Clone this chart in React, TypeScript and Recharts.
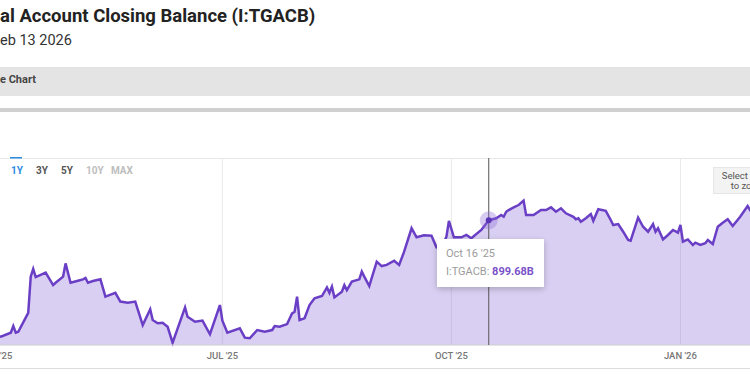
import React from "react"
import { AreaChart, Area, CartesianGrid, XAxis, YAxis, Tooltip } from "recharts"

// Treasury General Account closing balance, billions USD
const dates = [
  "2025-03-28", "2025-03-31", "2025-04-03", "2025-04-07", "2025-04-08", "2025-04-09", "2025-04-10",
  "2025-04-14", "2025-04-15", "2025-04-16", "2025-04-17", "2025-04-21", "2025-04-24", "2025-04-25",
  "2025-04-28", "2025-04-29", "2025-05-01", "2025-05-04", "2025-05-06", "2025-05-07", "2025-05-08",
  "2025-05-10", "2025-05-13", "2025-05-15", "2025-05-19", "2025-05-21", "2025-05-24", "2025-05-27",
  "2025-05-30", "2025-06-02", "2025-06-03", "2025-06-05", "2025-06-07", "2025-06-09", "2025-06-11",
  "2025-06-16", "2025-06-17", "2025-06-20", "2025-06-23", "2025-06-26", "2025-06-30", "2025-07-01",
  "2025-07-03", "2025-07-08", "2025-07-10", "2025-07-12", "2025-07-15", "2025-07-18", "2025-07-21",
  "2025-07-22", "2025-07-24", "2025-07-27", "2025-07-29", "2025-07-30", "2025-07-31", "2025-08-01",
  "2025-08-03", "2025-08-05", "2025-08-07", "2025-08-10", "2025-08-12", "2025-08-13", "2025-08-14",
  "2025-08-15", "2025-08-18", "2025-08-19", "2025-08-20", "2025-08-22", "2025-08-25", "2025-08-26",
  "2025-08-27", "2025-08-29", "2025-09-01", "2025-09-03", "2025-09-05", "2025-09-08", "2025-09-10",
  "2025-09-12", "2025-09-15", "2025-09-17", "2025-09-20", "2025-09-23", "2025-09-25", "2025-09-27",
  "2025-09-29", "2025-09-30", "2025-10-02", "2025-10-05", "2025-10-07", "2025-10-09", "2025-10-13",
  "2025-10-16", "2025-10-19", "2025-10-21", "2025-10-22", "2025-10-23", "2025-10-24", "2025-10-26",
  "2025-10-28", "2025-10-30", "2025-10-31", "2025-11-03", "2025-11-06", "2025-11-08", "2025-11-10",
  "2025-11-12", "2025-11-14", "2025-11-16", "2025-11-19", "2025-11-20", "2025-11-21", "2025-11-22",
  "2025-11-24", "2025-11-26", "2025-11-27", "2025-11-29", "2025-12-02", "2025-12-04", "2025-12-05",
  "2025-12-07", "2025-12-09", "2025-12-11", "2025-12-12", "2025-12-15", "2025-12-17", "2025-12-19",
  "2025-12-21", "2025-12-22", "2025-12-23", "2025-12-25", "2025-12-27", "2025-12-29", "2025-12-31",
  "2026-01-01", "2026-01-02", "2026-01-04", "2026-01-06", "2026-01-07", "2026-01-09", "2026-01-11",
  "2026-01-12", "2026-01-14", "2026-01-16", "2026-01-18", "2026-01-20", "2026-01-22", "2026-01-25",
  "2026-01-28", "2026-01-29", "2026-01-30", "2026-02-02",
]

const balances = [
  285, 300, 293, 314, 349, 314, 319,
  417, 606, 646, 604, 627, 562, 574,
  606, 675, 574, 585, 592, 599, 574,
  583, 592, 502, 522, 476, 470, 476,
  354, 436, 380, 363, 366, 345, 262,
  446, 397, 371, 377, 306, 458, 377,
  314, 337, 288, 285, 328, 319, 328,
  349, 345, 359, 415, 423, 502, 380,
  389, 458, 493, 505, 550, 522, 554,
  498, 528, 562, 536, 580, 592, 632,
  606, 557, 684, 661, 667, 689, 667,
  736, 858, 811, 821, 819, 759, 754,
  814, 896, 811, 811, 823, 806, 849,
  899.68, 910, 927, 918, 944, 953, 967,
  979, 1002, 927, 927, 953, 953, 967,
  944, 962, 936, 918, 905, 910, 892,
  910, 932, 897, 957, 949, 901, 875,
  880, 840, 797, 793, 913, 866, 840,
  880, 840, 858, 800, 823, 849, 835,
  875, 788, 800, 771, 783, 771, 780,
  797, 776, 866, 887, 905, 870, 918,
  974, 953, 960, 940,
]

const tickDates = ["2025-04-01", "2025-07-01", "2025-10-01", "2026-01-01"]
const gridValues = [250, 500, 750, 1000]
const rangeButtons = ["1Y", "3Y", "5Y", "10Y", "MAX"]
const hoverDate = "2025-10-16"

const MONTHS = ["Jan", "Feb", "Mar", "Apr", "May", "Jun", "Jul", "Aug", "Sep", "Oct", "Nov", "Dec"]
const toTs = (s: string) => {
  const [y, m, d] = s.split("-").map(Number)
  return Date.UTC(y, m - 1, d)
}

const data = dates.map((d, i) => ({ t: toTs(d), v: balances[i] }))
const hoverIndex = dates.indexOf(hoverDate)

const axisLabel = (t: number) => {
  const d = new Date(t)
  return `${MONTHS[d.getUTCMonth()].toUpperCase()} '${String(d.getUTCFullYear()).slice(2)}`
}
const tipLabel = (t: number) => {
  const d = new Date(t)
  return `${MONTHS[d.getUTCMonth()]} ${d.getUTCDate()} '${String(d.getUTCFullYear()).slice(2)}`
}

function TipBox({ active, payload }: any) {
  if (!active || !payload || !payload.length) return null
  const p = payload[0].payload
  return (
    <div
      style={{
        background: "#fff",
        width: 107,
        height: 48,
        boxSizing: "border-box",
        padding: "6px 9px",
        boxShadow: "0 2px 6px rgba(0,0,0,0.22)",
        fontSize: 11,
        lineHeight: "18px",
        color: "#9b9b9b",
        whiteSpace: "nowrap",
      }}
    >
      <div>{tipLabel(p.t)}</div>
      <div>
        I:TGACB: <b style={{ color: "#7a52c9" }}>{p.v.toFixed(2)}B</b>
      </div>
    </div>
  )
}

const HoverDot = (props: any) => (
  <g>
    <circle cx={props.cx} cy={props.cy} r={9} fill="#8b6ad6" fillOpacity={0.35} />
    <circle cx={props.cx} cy={props.cy} r={3} fill="#5b34b8" />
  </g>
)

const CHART_LEFT = -34
const CHART_TOP = 158

export default function App() {
  return (
    <div
      style={{
        position: "absolute",
        left: 0,
        top: 0,
        width: 750,
        height: 375,
        overflow: "hidden",
        background: "#fff",
        fontFamily: "Roboto, sans-serif",
      }}
    >
      <div style={{ position: "absolute", left: 0, top: 5, fontSize: 18.5, fontWeight: 700, color: "#222", whiteSpace: "nowrap" }}>
        al Account Closing Balance (I:TGACB)
      </div>
      <div style={{ position: "absolute", left: 0, top: 32, fontSize: 14.5, color: "#333" }}>eb 13 2026</div>

      <div style={{ position: "absolute", left: 0, top: 67, width: 750, height: 29, background: "#e4e4e4" }} />
      <div style={{ position: "absolute", left: 0, top: 73, fontSize: 11, fontWeight: 700, color: "#444" }}>e Chart</div>
      <div style={{ position: "absolute", left: 0, top: 108, width: 750, height: 4, background: "#d0d0d0" }} />

      <div style={{ position: "absolute", left: 0, top: 158, width: 750, height: 1, background: "#e6e6e6" }} />
      <div style={{ position: "absolute", left: 0, top: 368, width: 750, height: 1, background: "#dcdcdc" }} />

      <div style={{ position: "absolute", left: 10, top: 157, width: 12, height: 2, background: "#2b8ce0" }} />
      {rangeButtons.map((b, i) => (
        <div
          key={b}
          style={{
            position: "absolute",
            left: 11 + i * 25,
            top: 165,
            fontSize: 10,
            fontWeight: 700,
            color: i === 0 ? "#2b8ce0" : i < 3 ? "#555" : "#bdbdbd",
          }}
        >
          {b}
        </div>
      ))}

      <div
        style={{
          position: "absolute",
          left: 713,
          top: 167,
          width: 70,
          height: 27,
          background: "#f3f3f3",
          border: "1px solid #e6e6e6",
          boxSizing: "border-box",
          fontSize: 9.5,
          lineHeight: "10px",
          color: "#555",
          textAlign: "center",
          paddingTop: 3,
        }}
      >
        Select range
        <br />
        to zoom
      </div>

      <div style={{ position: "absolute", left: CHART_LEFT, top: CHART_TOP }}>
        <AreaChart width={814} height={207} data={data} margin={{ top: 0, right: 0, bottom: 0, left: 0 }}>
          <CartesianGrid stroke="#e9e9e9" strokeWidth={1} />
          <XAxis
            dataKey="t"
            type="number"
            domain={[toTs("2025-03-20"), toTs("2026-02-10")]}
            ticks={tickDates.map(toTs)}
            tickFormatter={axisLabel}
            tick={{ fontSize: 9.5, fontWeight: 500, fill: "#777" }}
            tickLine={false}
            axisLine={{ stroke: "#d6d6d6" }}
            height={20}
            dy={-1}
          />
          <YAxis
            type="number"
            domain={[250, 1224]}
            ticks={gridValues}
            width={0}
            tick={false}
            tickLine={false}
            axisLine={false}
          />
          <Tooltip
            active
            defaultIndex={hoverIndex}
            position={{ x: 437 - CHART_LEFT, y: 239 - CHART_TOP }}
            content={<TipBox />}
            cursor={{ stroke: "#555", strokeWidth: 1 }}
            isAnimationActive={false}
            wrapperStyle={{ outline: "none" }}
          />
          <Area
            type="linear"
            dataKey="v"
            stroke="#6a3fc6"
            strokeWidth={2.5}
            fill="#8060d4"
            fillOpacity={0.3}
            dot={false}
            activeDot={HoverDot}
            isAnimationActive={false}
          />
        </AreaChart>
      </div>
    </div>
  )
}
